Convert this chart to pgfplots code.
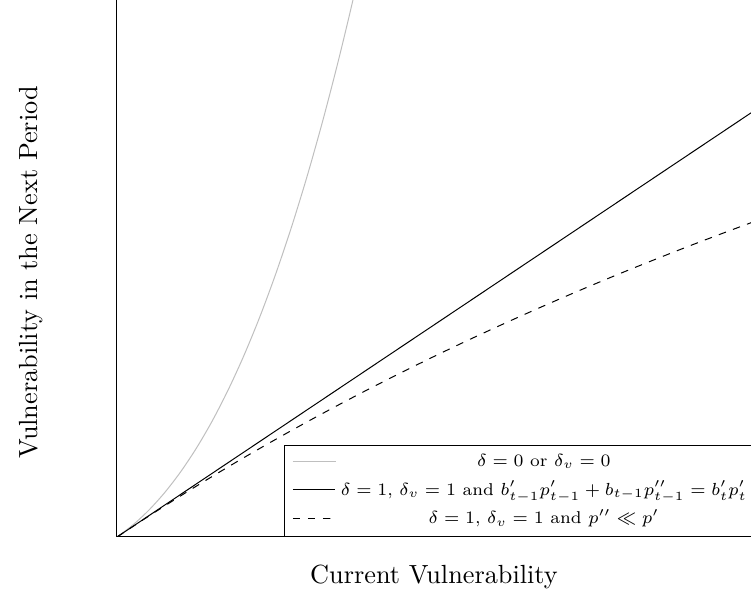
\documentclass[border=0pt]{standalone}
\usepackage{pgfplots}
\pgfplotsset{compat=1.18}
\begin{document}
\begin{tikzpicture}
\begin{axis}[
  scale only axis,
  width=257.2pt, height=214.8pt,
  xmin=0, xmax=1.0142, ymin=0, ymax=1,
  xtick=\empty, ytick=\empty,
  label style={font=\fontsize{10.5pt}{12pt}\selectfont},
  xlabel={Current Vulnerability},
  ylabel={Vulnerability in the Next Period},
  xlabel style={at={(axis description cs:0.493,-0.074)}, anchor=center},
  ylabel style={at={(axis description cs:-0.1330,0.493)}, anchor=center},
  legend style={at={(1,0)}, anchor=south east, font=\fontsize{6.85pt}{8pt}\selectfont, draw=black,
    row sep=0.3pt, inner ysep=1.5pt},
  legend cell align=center,
]
\addplot[black!25, smooth] coordinates {
(0,0) (0.025,0.0224) (0.05,0.0497) (0.075,0.0824) (0.1,0.1207) (0.125,0.1650)
(0.15,0.2156) (0.175,0.2730) (0.2,0.3374) (0.225,0.4091) (0.25,0.4887)
(0.275,0.5763) (0.3,0.6723) (0.325,0.7771) (0.35,0.8910) (0.375,1.0143)
(0.4,1.1475)};
\addlegendentry{$\delta=0$ or $\delta_v=0$}
\addplot[black] coordinates {(0,0) (1.0142,0.801)};
\addlegendentry{$\delta=1$, $\delta_v=1$ and $b'_{t-1}p'_{t-1}+b_{t-1}p''_{t-1}=b'_tp'_t$}
\addplot[black, dashed, smooth] coordinates {
(0,0) (0.05,0.0388) (0.1,0.0763) (0.15,0.1126) (0.2,0.1477) (0.25,0.1816)
(0.3,0.2145) (0.35,0.2463) (0.4,0.2772) (0.45,0.3071) (0.5,0.3362)
(0.55,0.3644) (0.6,0.3917) (0.65,0.4183) (0.7,0.4442) (0.75,0.4693)
(0.8,0.4938) (0.85,0.5175) (0.9,0.5407) (0.95,0.5632) (1.0,0.5852) (1.0142,0.5913)};
\addlegendentry{$\delta=1$, $\delta_v=1$ and $p''\ll p'$}
\end{axis}
\pgfresetboundingbox
\useasboundingbox (-46.8pt,-31.6pt) rectangle (253.6pt,214.8pt);
\end{tikzpicture}
\end{document}
